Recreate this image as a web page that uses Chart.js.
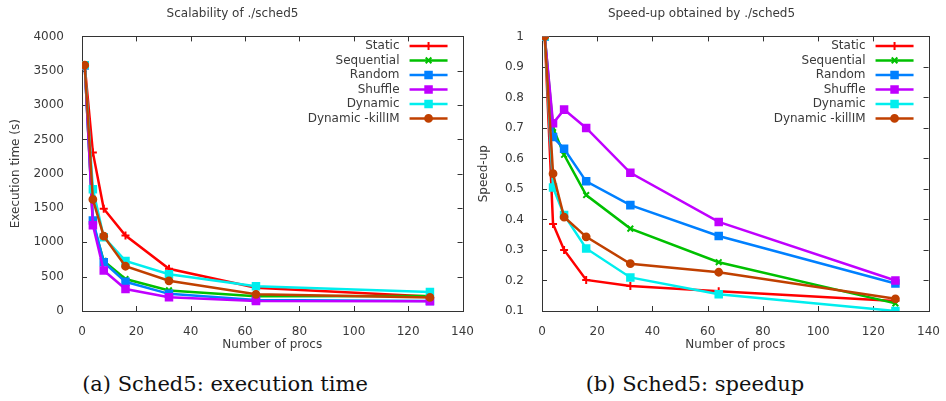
<!DOCTYPE html>
<html>
<head>
<meta charset="utf-8">
<script src="https://cdn.jsdelivr.net/npm/chart.js@4.4.1/dist/chart.umd.min.js"></script>
<style>
  body { margin: 0; background: #fff; width: 946px; height: 401px; position: relative; overflow: hidden; }
  .plot { position: absolute; top: 0; }
  .cap { position: absolute; top: 369px; height: 30px; line-height: 30px; font-family: "DejaVu Serif", serif; font-size: 21px; color: #111; white-space: nowrap; transform: translateX(-50%); }
</style>
</head>
<body>
<div class="plot" style="left:0px;width:480px;height:352px"><canvas id="timeChart" width="480" height="352"></canvas></div>
<div class="plot" style="left:470px;width:476px;height:352px"><canvas id="speedChart" width="476" height="352"></canvas></div>
<div class="cap" style="left:225px">(a) Sched5: execution time</div>
<div class="cap" style="left:695px">(b) Sched5: speedup</div>

<script>
// ---- data ----
const procs = [1, 4, 8, 16, 32, 64, 128];
const seriesNames = ["Static", "Sequential", "Random", "Shuffle", "Dynamic", "Dynamic -killIM"];

// execution time (s)
const timeStatic     = [3580, 2310, 1490, 1100, 615, 340, 210];
const timeSequential = [3580, 1280,  730,  465, 300, 215, 220];
const timeRandom     = [3580, 1320,  710,  425, 250, 162, 147];
const timeShuffle    = [3580, 1250,  590,  320, 202, 145, 142];
const timeDynamic    = [3580, 1775, 1075,  730, 535, 360, 275];
const timeKillIM     = [3580, 1625, 1090,  652, 440, 243, 198];

// speed-up
const speedStatic     = [1, 0.385, 0.300, 0.202, 0.182, 0.165, 0.133];
const speedSequential = [1, 0.700, 0.612, 0.480, 0.370, 0.260, 0.125];
const speedRandom     = [1, 0.670, 0.632, 0.525, 0.447, 0.346, 0.190];
const speedShuffle    = [1, 0.715, 0.760, 0.700, 0.553, 0.392, 0.200];
const speedDynamic    = [1, 0.505, 0.415, 0.305, 0.210, 0.155, 0.100];
const speedKillIM     = [1, 0.550, 0.408, 0.343, 0.255, 0.227, 0.140];

const xTicks = [0, 20, 40, 60, 80, 100, 120, 140];

const colors = ["#ff0000", "#00c000", "#0080ff", "#c000ff", "#00eeee", "#c04000"];
const markers = ["cross", "crossRot", "rect", "rect", "rect", "circle"];
const markerSize = [4, 4, 4.6, 4.6, 4.6, 3.4];

const font = "DejaVu Sans";
const textColor = "#3a3a3a";

// ---- gnuplot-ish frame, inward ticks on all sides, legend at top right ----
const gnuFrame = {
    id: "gnuFrame",
    beforeDatasetsDraw(chart) {
        const ctx = chart.ctx, a = chart.chartArea;
        const xs = chart.scales.x, ys = chart.scales.y;
        ctx.save();
        ctx.strokeStyle = "#333";
        ctx.lineWidth = 1;
        ctx.strokeRect(Math.round(a.left) + 0.5, Math.round(a.top) + 0.5, Math.round(a.right - a.left), Math.round(a.bottom - a.top));
        ctx.beginPath();
        xs.ticks.forEach(t => {
            const px = Math.round(xs.getPixelForValue(t.value)) + 0.5;
            ctx.moveTo(px, a.bottom); ctx.lineTo(px, a.bottom - 5);
            ctx.moveTo(px, a.top); ctx.lineTo(px, a.top + 5);
        });
        ys.ticks.forEach(t => {
            const py = Math.round(ys.getPixelForValue(t.value)) + 0.5;
            ctx.moveTo(a.left, py); ctx.lineTo(a.left + 5, py);
            ctx.moveTo(a.right, py); ctx.lineTo(a.right - 5, py);
        });
        ctx.stroke();
        ctx.restore();
    },
    afterDraw(chart) {
        const ctx = chart.ctx, a = chart.chartArea;
        ctx.save();
        ctx.font = "12px '" + font + "'";
        ctx.textAlign = "right";
        ctx.textBaseline = "middle";
        chart.data.datasets.forEach((ds, i) => {
            const y = a.top + 9.5 + i * 14.5;
            ctx.fillStyle = textColor;
            ctx.fillText(ds.label, a.right - 63, y);
            ctx.strokeStyle = ds.borderColor;
            ctx.lineWidth = 2.5;
            ctx.beginPath();
            ctx.moveTo(a.right - 53, y);
            ctx.lineTo(a.right - 15, y);
            ctx.stroke();
            ctx.fillStyle = ds.borderColor;
            ctx.lineWidth = 2;
            Chart.helpers.drawPoint(ctx, {pointStyle: ds.pointStyle, radius: ds.pointRadius, borderWidth: 2, rotation: 0}, a.right - 34, y);
        });
        ctx.restore();
    }
};

function buildDatasets(seriesList) {
    return seriesList.map((vals, i) => ({
        label: seriesNames[i],
        data: procs.map((p, k) => ({x: p, y: vals[k]})),
        borderColor: colors[i],
        backgroundColor: colors[i],
        borderWidth: 2.5,
        pointStyle: markers[i],
        pointRadius: markerSize[i],
        pointBorderWidth: 2,
        pointHoverRadius: markerSize[i],
        tension: 0,
        order: seriesList.length - i
    }));
}

function makeChart(canvasId, title, yTitle, seriesList, yMin, yMax, yStep, decimals, yWidth, yTitlePad, padRight) {
    return new Chart(document.getElementById(canvasId), {
        type: "line",
        data: { datasets: buildDatasets(seriesList) },
        options: {
            responsive: false,
            animation: false,
            events: [],
            layout: { padding: { left: 0, right: padRight, top: 0, bottom: 0 } },
            plugins: {
                legend: { display: false },
                tooltip: { enabled: false },
                title: {
                    display: true,
                    text: title,
                    color: textColor,
                    font: { family: font, size: 12, weight: "normal" },
                    padding: { top: 7, bottom: 15 }
                }
            },
            scales: {
                x: {
                    type: "linear",
                    min: xTicks[0],
                    max: xTicks[xTicks.length - 1],
                    afterBuildTicks: s => { s.ticks = xTicks.map(v => ({value: v})); },
                    grid: { display: false },
                    border: { display: false },
                    ticks: { color: textColor, font: { family: font, size: 12 }, padding: 6, maxRotation: 0, callback: v => String(v) },
                    title: { display: true, text: "Number of procs", color: textColor, font: { family: font, size: 12 }, padding: { top: 4, bottom: 0 } },
                    afterFit: s => { s.height = 41; }
                },
                y: {
                    type: "linear",
                    min: yMin,
                    max: yMax,
                    ticks: { stepSize: yStep, color: textColor, font: { family: font, size: 12 }, padding: 10, callback: v => String(+(+v).toFixed(decimals)) },
                    grid: { display: false },
                    border: { display: false },
                    title: { display: true, text: yTitle, color: textColor, font: { family: font, size: 12 }, padding: { top: yTitlePad, bottom: 0 } },
                    afterFit: s => { s.width = yWidth; }
                }
            }
        },
        plugins: [gnuFrame]
    });
}

makeChart("timeChart", "Scalability of ./sched5", "Execution time (s)",
    [timeStatic, timeSequential, timeRandom, timeShuffle, timeDynamic, timeKillIM],
    0, 4000, 500, 0, 82, 9, 15);

makeChart("speedChart", "Speed-up obtained by ./sched5", "Speed-up",
    [speedStatic, speedSequential, speedRandom, speedShuffle, speedDynamic, speedKillIM],
    0.1, 1, 0.1, 1, 72, 7, 13);
</script>
</body>
</html>
